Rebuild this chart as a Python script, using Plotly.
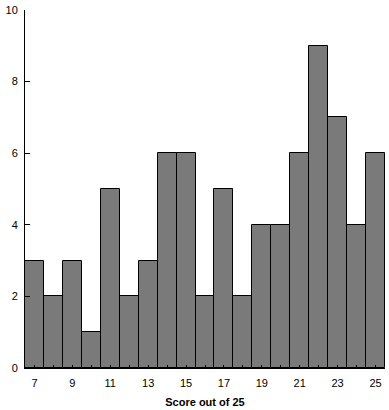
import plotly.graph_objects as go

scores = list(range(7, 26))
counts = [3, 2, 3, 1, 5, 2, 3, 6, 6, 2, 5, 2, 4, 4, 6, 9, 7, 4, 6]
x_tick_vals = list(range(7, 26))
x_tick_text = [str(v) if v % 2 == 1 else "" for v in x_tick_vals]
y_tick_vals = [0, 2, 4, 6, 8, 10]

fig = go.Figure(go.Bar(
    x=scores, y=counts, width=1,
    marker=dict(color="#7a7a7a", line=dict(color="black", width=1)),
))
fig.update_layout(
    width=389, height=410,
    margin=dict(l=25, r=4, t=10, b=42, autoexpand=False),
    plot_bgcolor="white", paper_bgcolor="white",
    font=dict(family="Liberation Sans, Arial", size=11, color="black"),
    showlegend=False, bargap=0,
)
fig.update_xaxes(range=[6.5, 25.5], tickvals=x_tick_vals, ticktext=x_tick_text,
                 ticks="inside", ticklen=3, tickcolor="black", showline=True, linecolor="black",
                 linewidth=1, showgrid=False, zeroline=False, ticklabelstandoff=5,
                 title=dict(text="<b>Score out of 25</b>", standoff=10, font=dict(size=11)))
fig.update_yaxes(range=[0, 10], tickvals=y_tick_vals, ticks="inside", ticklen=5, tickcolor="black",
                 showline=True, linecolor="black", linewidth=1, showgrid=False, zeroline=False,
                 ticklabelstandoff=4)
fig.write_html("out.html", config={"displayModeBar": False},
               post_script="document.body.style.margin='0';")
